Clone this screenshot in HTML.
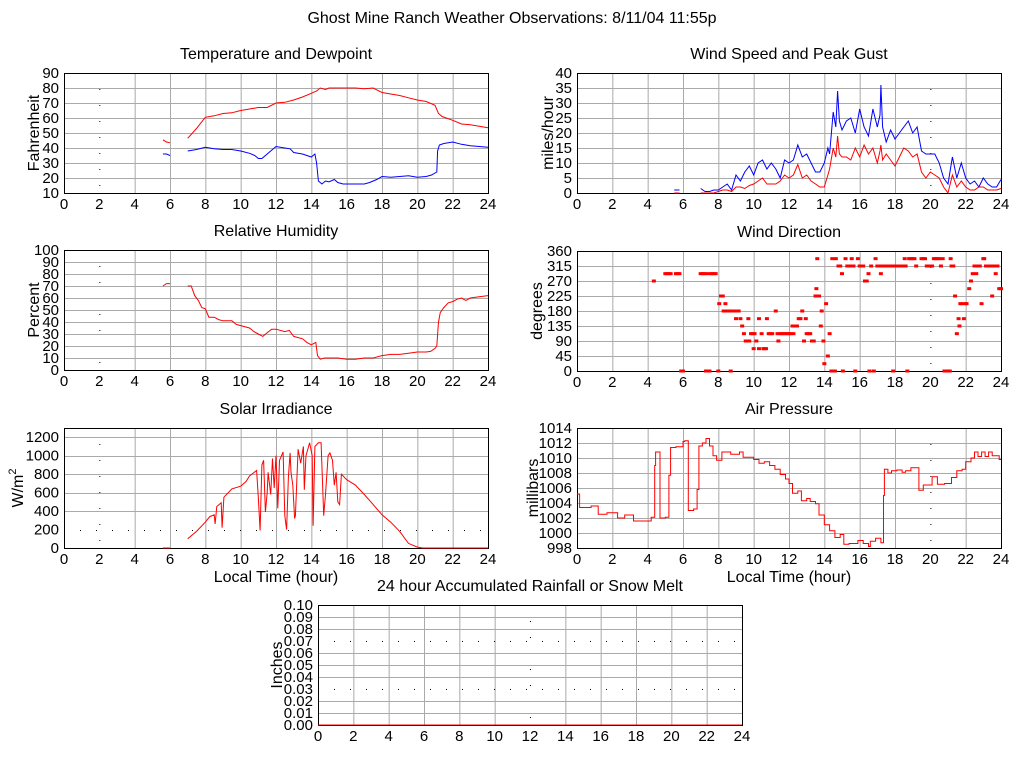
<!DOCTYPE html>
<html><head><meta charset="utf-8"><title>Ghost Mine Ranch Weather Observations</title>
<style>
html,body{margin:0;padding:0;background:#fff;}
svg{display:block;font-family:"Liberation Sans",Arial,sans-serif;}
</style></head>
<body>
<svg id="chart" xmlns="http://www.w3.org/2000/svg" width="1024" height="768" viewBox="0 0 1024 768">
<rect width="1024" height="768" fill="#fff"/>
<text x="512" y="23" text-anchor="middle" font-size="16">Ghost Mine Ranch Weather Observations: 8/11/04 11:55p</text>
</svg>
<script>
// ---- data ----
const hourTicks = [0,2,4,6,8,10,12,14,16,18,20,22,24];
const tempTicks = [10,20,30,40,50,60,70,80,90];
const windTicks = [0,5,10,15,20,25,30,35,40];
const rhTicks = [0,10,20,30,40,50,60,70,80,90,100];
const dirTicks = [0,45,90,135,180,225,270,315,360];
const solarTicks = [0,200,400,600,800,1000,1200];
const presTicks = [998,1000,1002,1004,1006,1008,1010,1012,1014];
const rainTicks = [0,0.01,0.02,0.03,0.04,0.05,0.06,0.07,0.08,0.09,0.10];
const rainTickLabels = ["0.00","0.01","0.02","0.03","0.04","0.05","0.06","0.07","0.08","0.09","0.10"];

const tempHours = [5.6,5.8,6.0,null,7.0,7.5,8,8.5,9,9.5,10,10.5,11,11.5,12,12.5,13,13.5,14,14.3,14.5,14.8,15,15.5,16,16.5,17,17.5,18,18.5,19,19.5,20,20.5,21,21.2,21.4,22,22.5,23,23.5,24];
const tempVals  = [45.5,44,43.5,null,46.5,53,60.5,61.5,63,63.5,65,66,67,67,70,70.5,72,74,76.5,78,80,79,80,80,80,80,79.5,80,77,76,75,73.5,72,71,68.5,63,61,58.5,56,55.5,54.5,53.5];
const dewHours = [5.6,5.8,6.0,null,7.0,7.5,8,8.5,9,9.5,10,10.5,10.8,11,11.2,11.5,12,12.5,12.8,13,13.5,14,14.2,14.3,14.4,14.6,14.8,15,15.3,15.5,15.8,16,16.5,17,17.3,17.7,18,18.5,19,19.5,20,20.5,20.8,21.1,21.15,21.25,21.5,22,22.5,23,23.5,24];
const dewVals  = [36,36,35,null,38,39,40.5,39.5,39,39,38,36.5,35,33,33,36,41,40,39.5,37,36,34,36,30,18,16,18,17.5,19,17,16,16,16,16,17,19,21,20.5,21,21.5,20.5,21,22,24,38,42,43,44,42.5,41.5,41,40.5];

const windHours = [5.5,5.8,null,7.0,7.25,7.5,7.75,8,8.25,8.5,8.75,9,9.25,9.5,9.75,10,10.25,10.5,10.75,11,11.25,11.5,11.75,12,12.25,12.5,12.75,13,13.25,13.5,13.75,14,14.2,14.3,14.5,14.65,14.75,14.85,15,15.25,15.5,15.75,16,16.25,16.5,16.75,17,17.15,17.2,17.3,17.5,17.75,18,18.25,18.5,18.75,19,19.25,19.5,19.75,20,20.25,20.5,20.75,21,21.25,21.5,21.75,22,22.25,22.5,22.75,23,23.25,23.5,23.75,24];
const gustVals = [1,1,null,1.5,0.5,0.5,1,1,2,3,1,6,4,7,9,6,10,11,8,10,8,5,11,10,11,16,12,13,10,7,7,10,15,13,27,22,34,24,21,24,25,20,28,22,19,28,22,26,36,22,17,21,18,20,22,24,20,22,14,13,13,13,10,5,3,12,5,10,5,3,4,2,5,3,2,2,4.5];
const speedVals = [0,0,null,0,0,0,0,0.5,1,1,0.5,2,2,1.5,2.5,3,4,5,3,3,3,4,6,5,6,9.5,5,6,4,3,2,2,6,8,15,12,19,13,12,12,11,15,12,16,13,15,10,14,16,11,13,11,9,12,15,14,12,13,7,5,7,6,5,2,0,6,2,4,2,1,1,2,2,1,1,1,1.5];

const rhHours = [5.6,5.8,6.0,null,7.0,7.2,7.4,7.6,7.8,8,8.2,8.5,8.75,9,9.5,9.75,10,10.5,10.75,11,11.25,11.5,11.75,12,12.5,12.75,13,13.5,13.75,14,14.25,14.35,14.5,14.75,15,15.5,16,16.5,17,17.5,18,18.5,19,19.5,20,20.5,20.75,21,21.1,21.2,21.3,21.5,21.75,22,22.25,22.5,22.75,23,23.5,24];
const rhVals  = [70,72,72,null,70,70,62,58,52,51,44,44,42,41,41,38,37,35,32,30,28,31,34,34,32,33,28,26,23,21,23,12,9,10,10,10,9,9,10,10,12,13,13,14,15,15,15.5,18,20,40,48,52,56,57,59,60,58,60,61,62];

const dirHours = [4.35,5.0,5.1,5.2,5.3,5.6,5.7,5.8,5.9,6.0,7.0,7.1,7.2,7.3,7.35,7.5,7.55,7.65,7.75,7.85,8.0,8.05,8.15,8.25,8.3,8.4,8.5,8.6,8.7,8.75,8.8,8.9,9.0,9.05,9.15,9.25,9.35,9.45,9.55,9.65,9.7,9.75,9.85,9.95,10.0,10.05,10.15,10.3,10.3,10.45,10.55,10.6,10.7,10.75,10.85,10.95,11.05,11.25,11.35,11.4,11.5,11.6,11.7,11.8,11.9,12.0,12.1,12.2,12.25,12.4,12.45,12.55,12.65,12.75,12.85,12.95,13.0,13.1,13.2,13.3,13.4,13.5,13.55,13.6,13.7,13.8,13.85,13.95,14.0,14.1,14.2,14.3,14.4,14.45,14.5,14.6,14.65,14.8,14.9,15.0,15.05,15.2,15.3,15.4,15.5,15.55,15.65,15.75,15.9,16.0,16.1,16.2,16.3,16.4,16.5,16.55,16.65,16.8,16.9,17.0,17.1,17.2,17.3,17.4,17.5,17.7,17.8,17.9,18.0,18.1,18.2,18.4,18.5,18.55,18.6,18.7,18.8,18.9,19.0,19.1,19.2,19.5,19.6,19.7,19.8,20.0,20.1,20.2,20.3,20.4,20.5,20.6,20.7,20.8,21.0,21.1,21.15,21.2,21.3,21.4,21.5,21.6,21.65,21.7,21.8,21.9,22.0,22.05,22.2,22.3,22.4,22.5,22.6,22.7,22.8,22.9,23.0,23.05,23.15,23.2,23.3,23.4,23.5,23.6,23.6,23.7,23.8,23.9,24.0];
const dirVals  = [270,292,292,292,292,292,292,292,0,0,292,292,292,0,292,0,292,292,292,292,0,202,225,225,180,202,180,180,0,180,180,180,157,180,180,157,135,112,90,90,157,90,112,112,67,112,90,67,157,112,67,67,67,157,112,112,112,180,112,90,112,112,112,112,112,112,112,135,112,135,135,157,157,180,90,157,112,112,112,90,90,225,247,337,225,135,180,90,22,202,45,112,0,337,0,0,337,315,315,292,0,337,315,315,315,337,315,0,337,315,315,315,270,270,292,0,315,0,337,315,315,292,315,315,315,315,315,0,315,315,315,315,315,337,315,0,337,337,337,337,315,337,337,337,315,315,315,337,337,337,337,315,337,0,0,0,337,315,315,225,112,157,135,202,202,157,202,202,247,270,292,315,292,315,315,202,337,337,315,315,315,315,225,315,315,292,315,247,247,315,225,247,292,292,315,315];

const solarHours = [5.6,6.0,null,7.0,7.5,8,8.25,8.5,8.55,8.65,8.9,8.95,9.05,9.5,10,10.3,10.5,10.9,11.0,11.1,11.2,11.3,11.4,11.5,11.55,11.7,11.8,11.9,12.0,12.1,12.2,12.4,12.5,12.6,12.7,12.8,12.85,12.95,13.05,13.1,13.25,13.4,13.55,13.6,13.7,13.9,14.05,14.1,14.2,14.4,14.55,14.7,14.8,14.95,15.05,15.2,15.3,15.4,15.5,15.6,15.7,16,16.5,17,17.5,18,18.5,19,19.5,20,20.3,24];
const solarVals  = [0,0,null,100,180,280,340,360,260,450,490,220,550,640,670,720,780,840,550,190,900,950,390,600,820,580,970,650,1000,430,950,1040,350,200,770,1030,820,680,320,350,1070,920,1100,630,1000,1140,1000,240,1100,1140,1140,350,580,1000,1030,950,680,820,500,470,800,740,680,580,470,360,280,180,50,10,0,0];

const presHours = [0,0.15,0.8,1.2,1.7,2.3,2.7,3.2,4.2,4.4,4.45,4.6,4.7,5.0,5.2,5.3,5.6,6.0,6.1,6.3,6.6,6.8,6.9,7.1,7.3,7.5,7.7,7.9,8.2,8.7,9.2,9.4,10,10.3,10.6,10.9,11.2,11.5,11.8,12.0,12.2,12.5,12.7,13,13.2,13.5,13.7,14,14.3,14.6,14.9,15.1,15.4,15.9,16.2,16.5,16.6,16.9,17.2,17.35,17.4,17.6,17.8,18.1,18.4,18.6,18.9,19.3,19.35,19.6,20.1,20.4,20.8,21.2,21.5,21.8,22,22.3,22.5,22.7,22.9,23.1,23.3,23.5,23.9,24];
const presVals  = [1005.2,1003.4,1003.6,1002.5,1002.7,1002.0,1002.4,1001.6,1002.1,1009,1010.8,1010.8,1002,1002.1,1007.7,1011.4,1011.5,1012.2,1012.3,1003.0,1003.2,1005.8,1011.6,1012.0,1012.6,1011.6,1010.3,1009.7,1010.8,1010.5,1010.8,1010.1,1009.8,1009.3,1009.5,1009.0,1008.5,1007.8,1007.2,1006.6,1005.3,1005.6,1004.3,1004.6,1004.2,1003.9,1002.4,1001.1,1000.3,999.4,999.8,998.5,998.6,999.0,998.6,998.2,998.9,999.3,998.7,1005,1008.5,1008.0,1008.3,1008.4,1008.1,1008.3,1008.7,1008.7,1005.7,1006.4,1007.5,1006.5,1006.6,1007.4,1008.3,1008.5,1009.5,1010.0,1010.8,1010.2,1010.8,1010.2,1010.8,1010.3,1009.8,1009.8];

const rainHours = [0,24];
const rainVals = [0,0];

// ---- drawing ----
const NS = "http://www.w3.org/2000/svg";
const svg = document.getElementById('chart');
function mk(tag, attrs, parent){
  const e = document.createElementNS(NS, tag);
  for (const k in attrs) e.setAttribute(k, attrs[k]);
  (parent||svg).appendChild(e);
  return e;
}
function panel(o){
  const g = mk('g', {});
  
  
  const sx = h => o.x0 + (h - 0) / 24 * (o.x1 - o.x0);
  const sy = v => o.y1 - (v - o.ymin) / (o.ymax - o.ymin) * (o.y1 - o.y0);
  const t = mk('text', {x:(o.x0+o.x1)/2, y:o.y0-14, 'text-anchor':'middle', 'font-size':16}, g);
  t.textContent = o.title;
  
  
  hourTicks.forEach(h => {
    const dotted = h === o.dotX;
    const l = mk('line', {x1:sx(h)+0.5, x2:sx(h)+0.5, y1:o.y0, y2:o.y1, stroke: dotted ? '#000' : '#aaa', 'stroke-width':1, 'stroke-dasharray': dotted ? '1,15' : 'none'}, g);
    
    
    const tx = mk('text', {x:sx(h), y:o.y1+16, 'text-anchor':'middle', 'font-size':15}, g);
    tx.textContent = h;
    
    
  });
  o.yTicks.forEach((v, i) => {
    const dotted = (o.dotY || []).includes(v);
    const y = Math.round(sy(v)) + 0.5;
    const l = mk('line', {x1:o.x0, x2:o.x1, y1:y, y2:y, stroke: dotted ? '#000' : '#aaa', 'stroke-width':1, 'stroke-dasharray': dotted ? '1,15' : 'none'}, g);
    
    
    const tx = mk('text', {x:o.x0-5, y:sy(v)+5, 'text-anchor':'end', 'font-size':15}, g);
    tx.textContent = o.yLabels ? o.yLabels[i] : v;
    
    
  });
  const fr = mk('rect', {x:o.x0+0.5, y:o.y0+0.5, width:o.x1-o.x0, height:o.y1-o.y0, fill:'none', stroke:'#000', 'stroke-width':1}, g);
  
  
  const cy = (o.y0+o.y1)/2;
  const yt = mk('text', {x:o.ytx, y:cy, 'text-anchor':'middle', 'font-size':16, transform:'rotate(-90 '+o.ytx+' '+cy+')'}, g);
  yt.textContent = o.ytitle;
  if (o.sup) { const s = mk('tspan', {'font-size':11, dy:-7}, yt); s.textContent = o.sup; }
  
  
  if (o.xtitle) {
    const xt = mk('text', {x:(o.x0+o.x1)/2, y:o.y1+34, 'text-anchor':'middle', 'font-size':16}, g);
    xt.textContent = o.xtitle;
    
    
  }
  (o.series || []).forEach(s => {
    let d = '', pen = false;
    s.hours.forEach((h, i) => {
      const v = s.vals[i];
      if (h === null || v === null) { pen = false; return; }
      const X = sx(h).toFixed(1), Y = sy(v).toFixed(1);
      if (!pen) { d += 'M' + X + ' ' + Y; pen = true; }
      else if (s.step) { d += 'H' + X + 'V' + Y; }
      else d += 'L' + X + ' ' + Y;
    });
    const p = mk('path', {d:d, fill:'none', stroke:s.color, 'stroke-width':1}, g);
    
    
  });
  if (o.points) {
    o.points.hours.forEach((h, i) => {
      const r = mk('rect', {x:sx(h)-2, y:sy(o.points.vals[i])-1.5, width:4, height:3, fill:'#f00'}, g);
      
      
    });
  }
}

panel({name:'temperature-panel', title:'Temperature and Dewpoint', x0:64, x1:488, y0:73, y1:193, ymin:10, ymax:90, yTicks:tempTicks, ytitle:'Fahrenheit', ytx:39, dotX:2,
  series:[{name:'temperature-line', hours:tempHours, vals:tempVals, color:'#f00'},{name:'dewpoint-line', hours:dewHours, vals:dewVals, color:'#00f'}]});
panel({name:'wind-speed-panel', title:'Wind Speed and Peak Gust', x0:577, x1:1001, y0:73, y1:193, ymin:0, ymax:40, yTicks:windTicks, ytitle:'miles/hour', ytx:553, dotX:20,
  series:[{name:'peak-gust-line', hours:windHours, vals:gustVals, color:'#00f'},{name:'wind-speed-line', hours:windHours, vals:speedVals, color:'#f00'}]});
panel({name:'humidity-panel', title:'Relative Humidity', x0:64, x1:488, y0:250, y1:370, ymin:0, ymax:100, yTicks:rhTicks, ytitle:'Percent', ytx:39, dotX:2,
  series:[{name:'humidity-line', hours:rhHours, vals:rhVals, color:'#f00'}]});
panel({name:'wind-direction-panel', title:'Wind Direction', x0:577, x1:1001, y0:251, y1:371, ymin:0, ymax:360, yTicks:dirTicks, ytitle:'degrees', ytx:542, dotX:20,
  points:{hours:dirHours, vals:dirVals}});
panel({name:'solar-panel', title:'Solar Irradiance', x0:64, x1:488, y0:428, y1:548, ymin:0, ymax:1300, yTicks:solarTicks, ytitle:'W/m', sup:'2', ytx:23, dotX:2, dotY:[200], xtitle:'Local Time (hour)',
  series:[{name:'solar-line', hours:solarHours, vals:solarVals, color:'#f00'}]});
panel({name:'pressure-panel', title:'Air Pressure', x0:577, x1:1001, y0:428, y1:548, ymin:998, ymax:1014, yTicks:presTicks, ytitle:'millibars', ytx:538, dotX:20, xtitle:'Local Time (hour)',
  series:[{name:'pressure-line', hours:presHours, vals:presVals, color:'#f00', step:true}]});
panel({name:'rainfall-panel', title:'24 hour Accumulated Rainfall or Snow Melt', x0:318, x1:742, y0:605, y1:725, ymin:0, ymax:0.1, yTicks:rainTicks, yLabels:rainTickLabels, ytitle:'Inches', ytx:282, dotX:12, dotY:[0.03,0.07],
  series:[{name:'rainfall-line', hours:rainHours, vals:rainVals, color:'#f00'}]});
</script>
</body></html>
